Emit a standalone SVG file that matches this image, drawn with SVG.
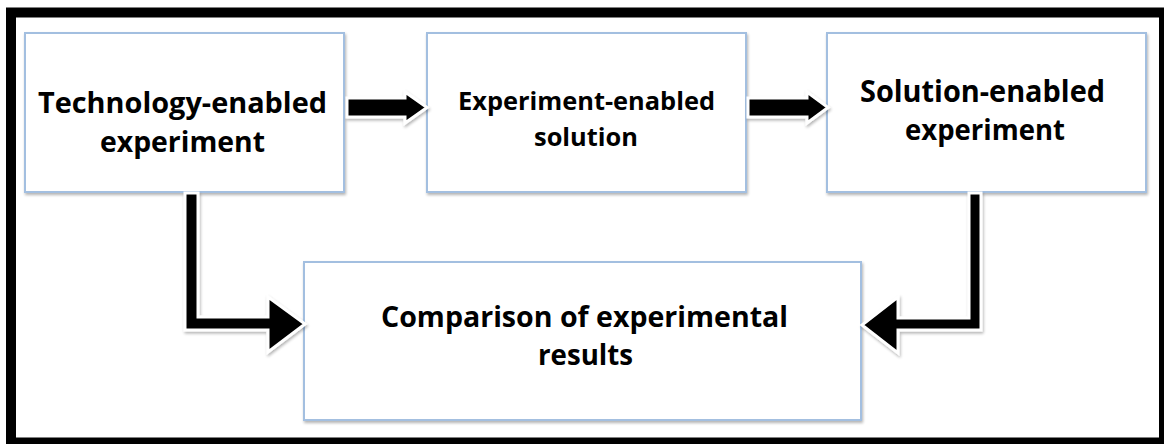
<svg xmlns="http://www.w3.org/2000/svg" width="1164" height="444" viewBox="0 0 1164 444">
<defs>
<filter id="sh" x="-10%" y="-10%" width="130%" height="130%">
<feGaussianBlur in="SourceAlpha" stdDeviation="1.5"/>
<feOffset dx="1" dy="2" result="b"/>
<feComponentTransfer><feFuncA type="linear" slope="0.3"/></feComponentTransfer>
<feMerge><feMergeNode/><feMergeNode in="SourceGraphic"/></feMerge>
</filter>
<style>
.box{fill:#ffffff;stroke:#a3bfe0;stroke-width:2;}
.t{font-family:"Open Sans","Liberation Sans",sans-serif;font-weight:bold;fill:#000;text-anchor:middle;}
.arr{fill:#000;stroke:#ffffff;stroke-width:3;stroke-linejoin:miter;}
</style>
</defs>
<rect x="0" y="0" width="1164" height="444" fill="#ffffff"/>
<rect x="11" y="12.5" width="1153" height="430" fill="none" stroke="#000" stroke-width="10"/>
<g id="node-tech">
<rect class="box" x="25" y="33" width="319" height="159" filter="url(#sh)"/>
<text class="t" x="182.5" y="113" font-size="29" textLength="289" lengthAdjust="spacingAndGlyphs">Technology-enabled</text>
<text class="t" x="182.5" y="152" font-size="29" textLength="165" lengthAdjust="spacingAndGlyphs">experiment</text>
</g>
<g id="node-expsol">
<rect class="box" x="427" y="33" width="319" height="159" filter="url(#sh)"/>
<text class="t" x="586.5" y="110" font-size="25" textLength="257" lengthAdjust="spacingAndGlyphs">Experiment-enabled</text>
<text class="t" x="586" y="146" font-size="25" textLength="104" lengthAdjust="spacingAndGlyphs">solution</text>
</g>
<g id="node-solexp">
<rect class="box" x="827" y="33" width="319" height="159" filter="url(#sh)"/>
<text class="t" x="982.5" y="102" font-size="30" textLength="245" lengthAdjust="spacingAndGlyphs">Solution-enabled</text>
<text class="t" x="985" y="140" font-size="29" textLength="160" lengthAdjust="spacingAndGlyphs">experiment</text>
</g>
<g id="node-compare">
<rect class="box" x="304" y="262" width="557" height="158" filter="url(#sh)"/>
<text class="t" x="584.5" y="327" font-size="29" textLength="407" lengthAdjust="spacingAndGlyphs">Comparison of experimental</text>
<text class="t" x="585.5" y="365" font-size="29" textLength="95" lengthAdjust="spacingAndGlyphs">results</text>
</g>
<g id="connectors" filter="url(#sh)">
<polygon class="arr" points="347,98 405,98 405,92 427,107.5 405,123 405,117 347,117"/>
<polygon class="arr" points="748,98 807,98 807,92 828,107.5 807,123 807,117 748,117"/>
<polygon class="arr" points="185,193 198,193 198,317 268,317 268,297 305,324 268,352 268,330 185,330"/>
<polygon class="arr" points="969,193 981,193 981,330 898,330 898,353 862,325 898,297 898,318 969,318"/>
</g>
</svg>
